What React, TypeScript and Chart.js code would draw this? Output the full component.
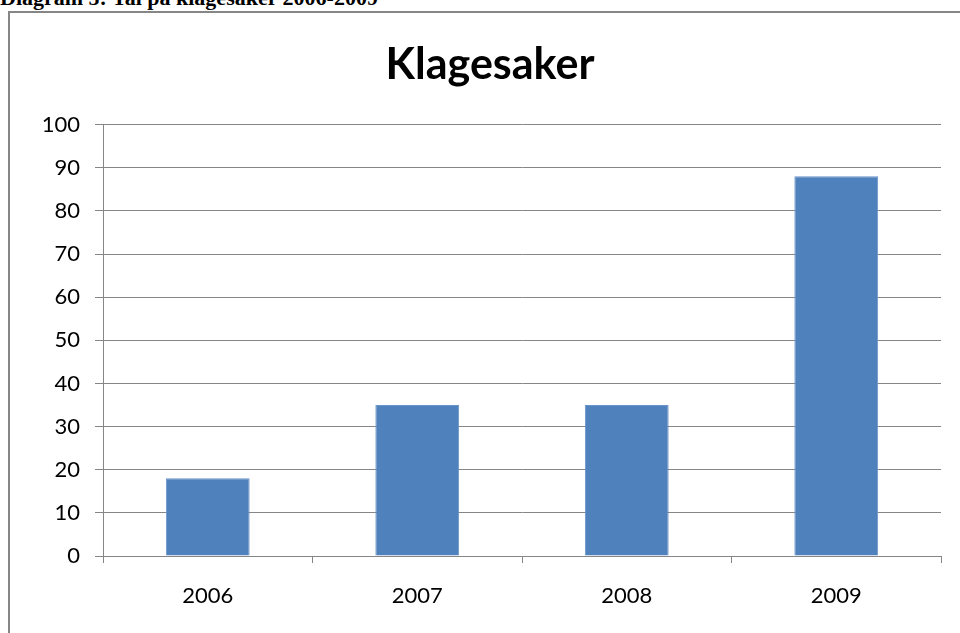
import React, { useEffect, useRef } from "react";
import { Chart, registerables } from "chart.js";

Chart.register(...registerables);

const categories = ["2006", "2007", "2008", "2009"];
const values = [18, 35, 35, 88];
const chartTitle = "Klagesaker";
const caption = "Diagram 5: Tal på klagesaker 2006-2009";
const yMin = 0;
const yMax = 100;
const yStep = 10;

export default function App() {
  const ref = useRef<HTMLCanvasElement | null>(null);

  useEffect(() => {
    if (!ref.current) return;
    const grey = "#868686";
    const chart = new Chart(ref.current, {
      type: "bar",
      data: {
        labels: categories,
        datasets: [
          {
            data: values,
            backgroundColor: "#4F81BD",
            borderColor: "#6B95C8",
            borderWidth: 1,
            categoryPercentage: 1,
            barPercentage: 0.4,
          },
        ],
      },
      options: {
        animation: false,
        responsive: true,
        maintainAspectRatio: false,
        layout: { padding: { left: 29, right: 29, top: 0, bottom: 0 } },
        plugins: {
          legend: { display: false },
          tooltip: { enabled: false },
          title: {
            display: true,
            text: chartTitle,
            color: "#000000",
            font: { family: "Lato", size: 43, weight: "bold", lineHeight: 1.2 },
            padding: { top: 26, bottom: 34 },
          },
        },
        scales: {
          x: {
            afterFit: (s: any) => {
              s.height = 87;
            },
            grid: {
              offset: true,
              drawOnChartArea: false,
              drawTicks: true,
              tickLength: 7,
              color: grey,
            },
            border: { display: true, color: grey },
            ticks: {
              color: "#000000",
              padding: 20,
              font: { family: "Lato", size: 22 },
            },
          },
          y: {
            min: yMin,
            max: yMax,
            afterFit: (s: any) => {
              s.width = 64;
            },
            grid: {
              drawOnChartArea: true,
              drawTicks: true,
              tickLength: 8,
              color: grey,
            },
            border: { display: true, color: grey },
            ticks: {
              stepSize: yStep,
              color: "#000000",
              padding: 15,
              font: { family: "Lato", size: 22 },
            },
          },
        },
      },
    });
    return () => chart.destroy();
  }, []);

  return (
    <div
      style={{
        position: "fixed",
        left: 0,
        top: 0,
        width: 960,
        height: 633,
        overflow: "hidden",
        background: "#ffffff",
      }}
    >
      <div
        style={{
          position: "absolute",
          left: 0,
          top: -15,
          whiteSpace: "nowrap",
          fontFamily: "'Liberation Serif', 'Times New Roman', serif",
          fontWeight: "bold",
          fontSize: 22,
          color: "#000",
        }}
      >
        {caption}
      </div>
      <div
        style={{
          position: "absolute",
          left: 8,
          top: 11,
          width: 980,
          height: 660,
          border: "2px solid #868686",
          boxSizing: "border-box",
        }}
      />
      <div
        style={{
          position: "absolute",
          left: 10,
          top: 13,
          width: 960,
          height: 630,
        }}
      >
        <canvas ref={ref} />
      </div>
    </div>
  );
}
